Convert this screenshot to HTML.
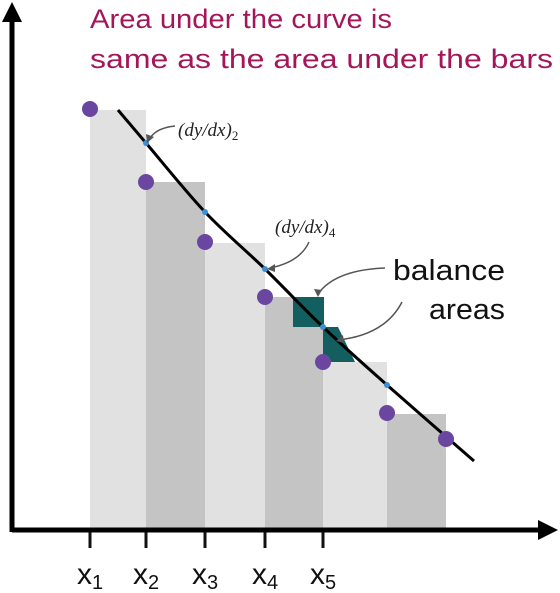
<!DOCTYPE html>
<html><head><meta charset="utf-8"><style>
body{margin:0;background:#fff;}
svg{display:block;font-family:"Liberation Sans",sans-serif;}
</style></head><body>
<svg id="c" width="560" height="593" viewBox="0 0 560 593">
<g id="bars"></g>
<rect x="293" y="297" width="31" height="30" fill="#135e5e"/>
<polygon points="323,327 338,327 355,362 323,362" fill="#135e5e"/>
<path id="curve" d="" fill="none" stroke="#000" stroke-width="3"/>
<g id="marks"></g>
<line x1="12" y1="530" x2="545" y2="530" stroke="#000" stroke-width="5"/>
<polygon points="558,530 538,520 538,540" fill="#000"/>
<line x1="12" y1="18" x2="12" y2="532" stroke="#000" stroke-width="5"/>
<polygon points="12,2 2,22 22,22" fill="#000"/>
<g id="ticks"></g>
<text x="90" y="28" font-size="27" textLength="302" lengthAdjust="spacingAndGlyphs" fill="#a3175a">Area under the curve is</text>
<text x="90" y="68" font-size="27" textLength="463" lengthAdjust="spacingAndGlyphs" fill="#a3175a">same as the area under the bars</text>
<text x="178" y="136" font-size="19" font-family="Liberation Serif,serif" font-style="italic" fill="#222">(dy/dx)<tspan font-style="normal" font-size="13" dy="4">2</tspan></text>
<text x="275" y="233" font-size="19" font-family="Liberation Serif,serif" font-style="italic" fill="#222">(dy/dx)<tspan font-style="normal" font-size="13" dy="4">4</tspan></text>
<text x="393" y="280" font-size="29" textLength="112" lengthAdjust="spacingAndGlyphs" fill="#111">balance</text>
<text x="429" y="319" font-size="29" textLength="76" lengthAdjust="spacingAndGlyphs" fill="#111">areas</text>
<g fill="none" stroke="#555" stroke-width="1.5">
<path d="M175,126 Q155,128 149,140"/>
<path d="M309,242 Q300,262 270,268"/>
<path d="M385,268 Q335,270 318,294"/>
<path d="M402,302 Q385,335 338,340"/>
</g>
<g fill="#555">
<polygon points="147,143 146,134 154,137"/>
<polygon points="267,269 275,264 275,272"/>
<polygon points="318,297 314,289 322,290"/>
<polygon points="336,341 343,335 344,343"/>
</g>
</svg>
<script>
const barHeights=[420,348,287,233,168,116];
const pointValues=[421,348,288,233,168,117,91];
const slopeValues=[387,318,261,203,145];
const curveStart=420, curveEnd=69;
const tickLabels=["1","2","3","4","5"];
const edges=[90,146,205,265,323,387,446];
const ns="http://www.w3.org/2000/svg";
const yS=v=>530-v;
const xE=i=>edges[i];
function mk(t,a,p){const e=document.createElementNS(ns,t);for(const k in a)e.setAttribute(k,a[k]);p.appendChild(e);return e;}
const bars=document.getElementById('bars'),marks=document.getElementById('marks'),ticks=document.getElementById('ticks');
barHeights.forEach((v,i)=>{const r=mk('rect',{x:xE(i),y:yS(v),width:xE(i+1)-xE(i),height:v,fill:i%2?'#c4c4c4':'#e0e1e0'},bars);

});
// curve through slope points
const pts=[[118,yS(curveStart)]].concat(slopeValues.map((v,i)=>[xE(i+1),yS(v)])).concat([[474,yS(curveEnd)]]);
let d='M'+pts[0].join(',');
for(let i=0;i<pts.length-1;i++){const p0=pts[Math.max(0,i-1)],p1=pts[i],p2=pts[i+1],p3=pts[Math.min(pts.length-1,i+2)];
d+=' C'+(p1[0]+(p2[0]-p0[0])/6)+','+(p1[1]+(p2[1]-p0[1])/6)+' '+(p2[0]-(p3[0]-p1[0])/6)+','+(p2[1]-(p3[1]-p1[1])/6)+' '+p2[0]+','+p2[1];}
document.getElementById('curve').setAttribute('d',d);
pointValues.forEach((v,i)=>{const c=mk('circle',{cx:xE(i),cy:yS(v),r:8,fill:'#6a46a0'},marks);

});
slopeValues.forEach((v,i)=>{const c=mk('circle',{cx:xE(i+1),cy:yS(v),r:3,fill:'#3d8fd6'},marks);

});
tickLabels.forEach((l,i)=>{const x=xE(i);
const t=mk('line',{x1:x,y1:532,x2:x,y2:548,stroke:'#111','stroke-width':3},ticks);


const tx=mk('text',{x:x-13,y:584,'font-size':30,fill:'#111'},ticks);


tx.textContent='x';const s=mk('tspan',{'font-size':20,dy:5},tx);s.textContent=l;});
</script>
</body></html>
